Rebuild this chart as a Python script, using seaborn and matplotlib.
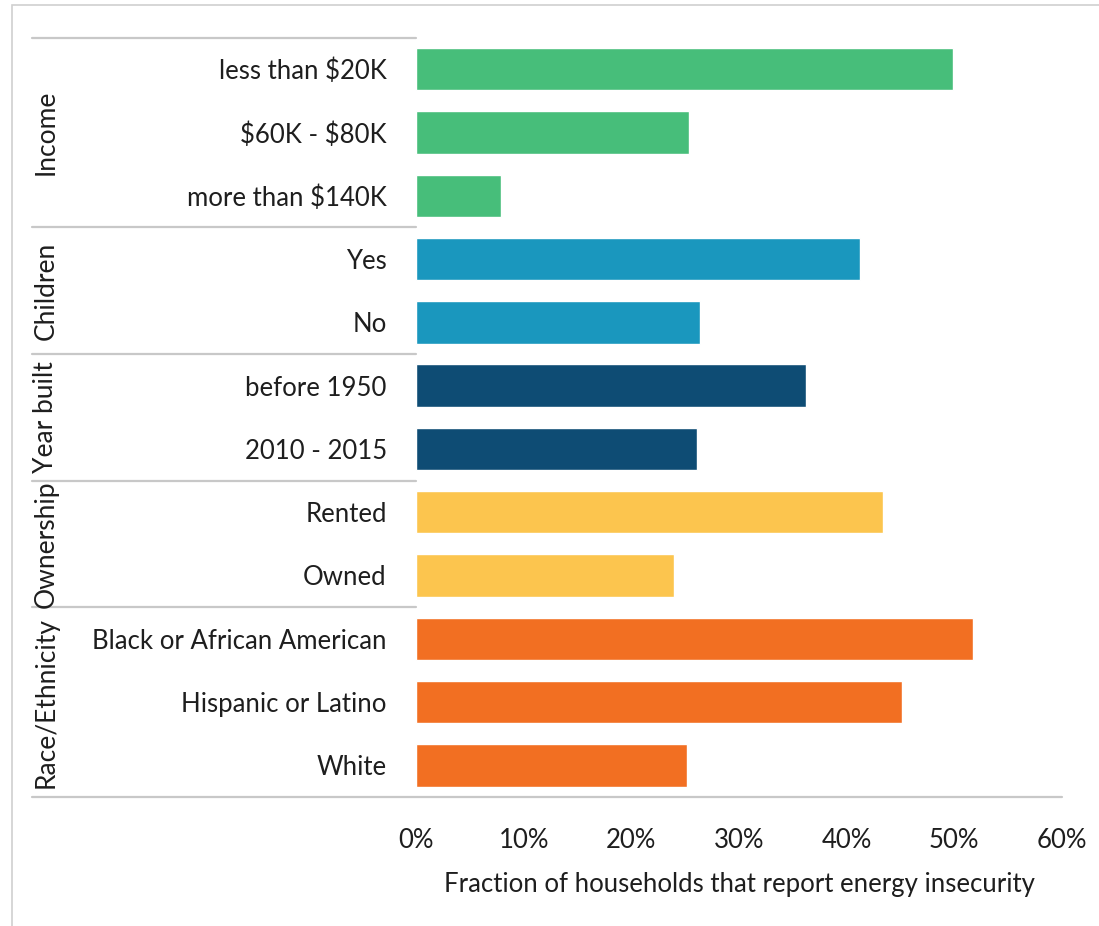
import numpy as np
import pandas as pd
import seaborn as sns
from matplotlib import pyplot as plt
from matplotlib.patches import Rectangle
import matplotlib.transforms as mtransforms

# data
groups = ['Income', 'Children', 'Year built', 'Ownership', 'Race/Ethnicity']
labels = ['less than $20K', '$60K - $80K', 'more than $140K',
          'Yes', 'No',
          'before 1950', '2010 - 2015',
          'Rented', 'Owned',
          'Black or African American', 'Hispanic or Latino', 'White']
label_group = ['Income', 'Income', 'Income',
               'Children', 'Children',
               'Year built', 'Year built',
               'Ownership', 'Ownership',
               'Race/Ethnicity', 'Race/Ethnicity', 'Race/Ethnicity']
values = [49.9, 25.4, 7.9, 41.2, 26.4, 36.2, 26.1, 43.4, 24.0, 51.7, 45.1, 25.2]
group_colors = ['#47BE7A', '#1A97BE', '#0E4C74', '#FCC54E', '#F26F22']
x_ticks = [0, 10, 20, 30, 40, 50, 60]

df = pd.DataFrame({'label': labels, 'group': label_group, 'value': values})

sns.set_style('white')
plt.rcParams['font.family'] = ['Lato', 'DejaVu Sans']
plt.rcParams['text.parse_math'] = False  # keep the dollar signs literal

txt_color = '#1E1E1E'
fs = 18.5

fig = plt.figure(figsize=(10.99, 9.26), dpi=100)
ax = fig.add_axes([0.3785, 0.1393, 0.5878, 0.8202])

sns.barplot(data=df, x='value', y='label', hue='group', hue_order=groups,
            palette=group_colors, dodge=False, width=0.67, legend=False,
            saturation=1, ax=ax)

ax.set_xlim(0, 60)
ax.set_ylim(len(labels) - 0.5, -0.5)
ax.set_xticks(x_ticks)
ax.set_xticklabels([f'{t}%' for t in x_ticks], fontsize=fs, color=txt_color)
ax.tick_params(axis='x', length=0, pad=22)
ax.tick_params(axis='y', length=0, pad=21, labelsize=fs, labelcolor=txt_color)
ax.set_ylabel('')
ax.set_xlabel('Fraction of households that report energy insecurity',
              fontsize=fs, color=txt_color, labelpad=14)

for s in ['top', 'right', 'left', 'bottom']:
    ax.spines[s].set_visible(False)

# group separators and group names on the left
trans = mtransforms.blended_transform_factory(ax.transAxes, ax.transData)
left_x = (32 - 416) / 646
sizes = [label_group.count(g) for g in groups]
start = -0.5
ax.plot([left_x, 0], [start, start], color='#C8C8C8', lw=1.6,
        transform=trans, clip_on=False)
for g, n in zip(groups, sizes):
    end = start + n
    right_x = 1 if g == groups[-1] else 0
    ax.plot([left_x, right_x], [end, end], color='#C8C8C8', lw=1.6,
            transform=trans, clip_on=False)
    ax.text((46 - 416) / 646, (start + end) / 2, g, rotation=90,
            ha='center', va='center', fontsize=19, color=txt_color,
            transform=trans)
    start = end

# light frame like the source image
fig.add_artist(Rectangle((12 / 1099, -0.1), 1.2, (926 - 5) / 926 + 0.1,
                         transform=fig.transFigure, fill=False,
                         edgecolor='#D0D0D0', lw=1.2))

plt.savefig('out.png', dpi=100)
